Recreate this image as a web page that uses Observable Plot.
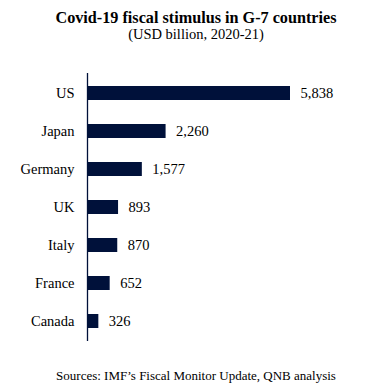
<!DOCTYPE html>
<html>
<head>
<meta charset="utf-8">
<script src="https://cdn.jsdelivr.net/npm/d3@7"></script>
<script src="https://cdn.jsdelivr.net/npm/@observablehq/plot@0.6"></script>
<style>
  html, body { margin: 0; padding: 0; background: #fff; }
  #wrap { position: relative; width: 376px; height: 392px; overflow: hidden; font-family: "Liberation Serif", "Times New Roman", serif; color: #000; }
  .t { position: absolute; left: 0; width: 392px; text-align: center; white-space: nowrap; }
  #title { top: 10px; font-size: 16.2px; line-height: 16px; font-weight: bold; }
  #subtitle { top: 26.5px; font-size: 14.5px; line-height: 14.5px; }
  #caption { top: 369px; font-size: 13px; line-height: 13px; }
  #chart { position: absolute; left: 0; top: 55px; }
</style>
</head>
<body>
<div id="wrap">
  <div class="t" id="title">Covid-19 fiscal stimulus in G-7 countries</div>
  <div class="t" id="subtitle">(USD billion, 2020-21)</div>
  <div id="chart"></div>
  <div class="t" id="caption">Sources: IMF’s Fiscal Monitor Update, QNB analysis</div>
</div>
<script>
const countries = ["US", "Japan", "Germany", "UK", "Italy", "France", "Canada"];
const values = [5838, 2260, 1577, 893, 870, 652, 326];

const data = countries.map((c, i) => ({country: c, value: values[i]}));
const navy = "#00113a";
const fmt = d3.format(",");

const chart = Plot.plot({
  width: 376,
  height: 295,
  marginTop: 18,
  marginBottom: 9,
  marginLeft: 87,
  marginRight: 86,
  style: {fontFamily: "Liberation Serif, Times New Roman, serif", fontSize: "14.5px", color: "#000", background: "transparent"},
  x: {domain: [0, d3.max(values)], axis: null},
  y: {domain: countries, paddingInner: 0.63, paddingOuter: 0.315, label: null, tickSize: 0, tickPadding: 13},
  marks: [
    Plot.barX(data, {x: "value", y: "country", fill: navy}),
    Plot.ruleX([0], {stroke: navy, strokeWidth: 1.3}),
    Plot.text(data, {x: "value", y: "country", text: d => fmt(d.value), dx: 10, textAnchor: "start", fill: "#000", fontSize: 14.5})
  ]
});
document.getElementById("chart").appendChild(chart);
</script>
</body>
</html>
